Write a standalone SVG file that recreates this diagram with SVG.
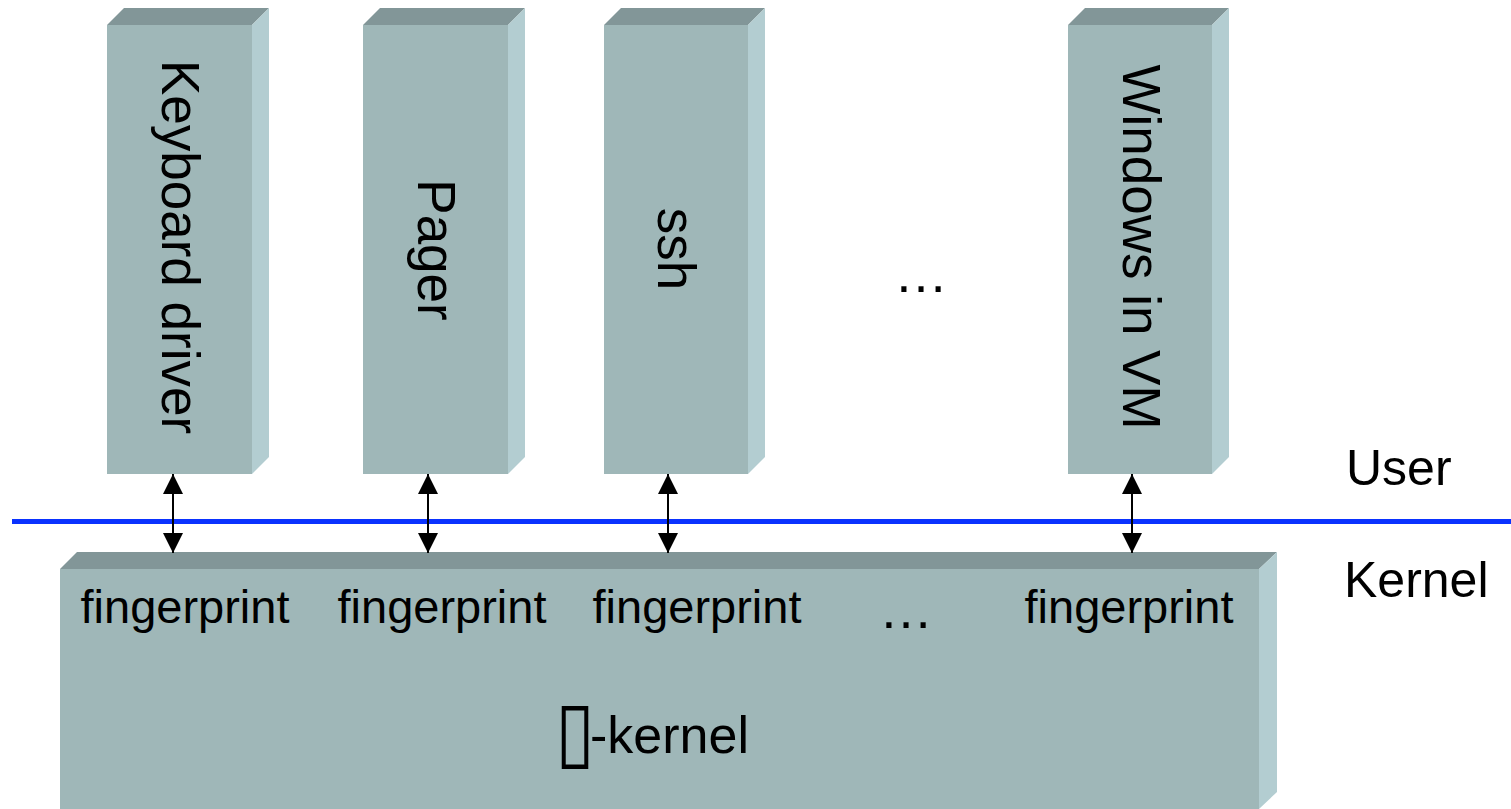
<svg xmlns="http://www.w3.org/2000/svg" width="1511" height="809" viewBox="0 0 1511 809">
<style>
.front{fill:#9fb7b8}
.top{fill:#829698}
.side{fill:#b3cdd1}
.t{font-family:"Liberation Sans",Arial,sans-serif;fill:#000}
.v{font-size:53px;text-anchor:middle}
.fp{font-size:47px;text-anchor:middle}
.conn{stroke:#000;stroke-width:2;fill:none;marker-start:url(#ah);marker-end:url(#ah)}
</style>
<defs>
<marker id="ah" viewBox="0 0 20 20" refX="20" refY="10" markerWidth="20" markerHeight="20" markerUnits="userSpaceOnUse" orient="auto-start-reverse">
<path d="M0,0 L20,10 L0,20 Z" fill="#000"/>
</marker>
</defs>
<rect width="1511" height="809" fill="#fff"/>

<g id="kernel">
<rect class="front" x="60" y="569" width="1199" height="240"/>
<polygon class="top" points="60,569 77,552 1277,552 1259,569"/>
<polygon class="side" points="1259,569 1277,552 1277,792 1259,809"/>
<text class="t fp" x="185" y="623">fingerprint</text>
<text class="t fp" x="442" y="623">fingerprint</text>
<text class="t fp" x="697" y="623">fingerprint</text>
<text class="t" x="906" y="628" font-size="54" text-anchor="middle">…</text>
<text class="t fp" x="1129" y="623">fingerprint</text>
<text font-family="'DejaVu Sans',sans-serif" font-size="72" text-anchor="middle" fill="#000" transform="translate(575,759) scale(1,1.15)">▯</text>
<text class="t" x="590" y="753" font-size="52">-kernel</text>
</g>

<g id="keyboard-driver">
<rect class="front" x="107" y="25" width="145" height="449"/>
<polygon class="top" points="107,25 124,8 269,8 252,25"/>
<polygon class="side" points="252,25 269,8 269,457 252,474"/>
<text class="t v" transform="translate(162,247) rotate(90)">Keyboard driver</text>
</g>

<g id="pager">
<rect class="front" x="363" y="25" width="145" height="449"/>
<polygon class="top" points="363,25 380,8 525,8 508,25"/>
<polygon class="side" points="508,25 525,8 525,457 508,474"/>
<text class="t v" transform="translate(418,250) rotate(90)">Pager</text>
</g>

<g id="ssh">
<rect class="front" x="604" y="25" width="144" height="449"/>
<polygon class="top" points="604,25 621,8 765,8 748,25"/>
<polygon class="side" points="748,25 765,8 765,457 748,474"/>
<text class="t v" transform="translate(658,249) rotate(90)">ssh</text>
</g>

<g id="ellipsis-top">
<text class="t" x="921" y="292" font-size="54" text-anchor="middle">…</text>
</g>

<g id="windows-vm">
<rect class="front" x="1068" y="25" width="144" height="449"/>
<polygon class="top" points="1068,25 1085,8 1229,8 1212,25"/>
<polygon class="side" points="1212,25 1229,8 1229,457 1212,474"/>
<text class="t v" transform="translate(1123,247) rotate(90)">Windows in VM</text>
</g>

<g id="boundary">
<line x1="12" y1="521.5" x2="1511" y2="521.5" stroke="#0a32ff" stroke-width="5"/>
<text class="t" x="1346" y="485" font-size="50">User</text>
<text class="t" x="1344" y="597" font-size="50">Kernel</text>
</g>

<g id="connectors">
<line class="conn" x1="173" y1="474" x2="173" y2="553"/>
<line class="conn" x1="428" y1="474" x2="428" y2="553"/>
<line class="conn" x1="668" y1="474" x2="668" y2="553"/>
<line class="conn" x1="1132" y1="474" x2="1132" y2="553"/>
</g>
</svg>
